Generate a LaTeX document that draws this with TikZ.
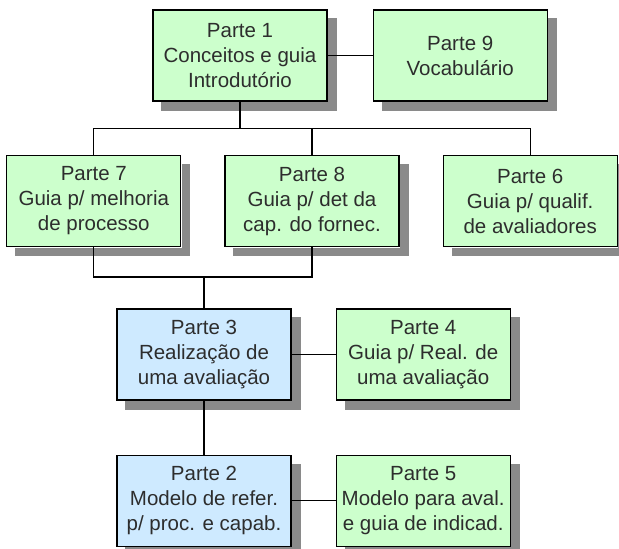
\documentclass[tikz,border=0pt]{standalone}
\usepackage{fontspec}
\setmainfont{Liberation Sans}
\usepackage{tikz}
\usetikzlibrary{positioning, calc}
\definecolor{partgreen}{RGB}{204,255,204}
\definecolor{partblue}{RGB}{206,234,255}
\definecolor{shadowgray}{RGB}{138,138,138}
\definecolor{textgray}{RGB}{45,45,45}
\tikzset{
	parte/.style={
		draw,
		line width=1.2pt,
		align = center,
		minimum width=174pt,
		minimum height=91pt,
		inner sep=0pt,
		text=textgray,
		font={\fontsize{20.5}{25}\selectfont},
	},
	verde/.style={
		parte,
		fill=partgreen,
	},
	azul/.style={
		parte,
		fill=partblue,
	},
	link/.style={
		line width=1.2pt,
	},
	sombra/.style={
		fill=shadowgray,
	}
}

\begin{document}
\begin{tikzpicture}[x=1pt, y=-1pt]
\useasboundingbox (0,0) rectangle (619,549);

\node(p1)[verde] at (240,55.5) {Parte 1\\Conceitos e guia\\Introdutório};
\node(p9)[verde, right = 45pt of p1] {Parte 9\\Vocabulário};

\node(p8)[verde] at (312,201) {Parte 8\\Guia p/ det da\\cap. do fornec.};
\node(p7)[verde, left = 43pt of p8] {Parte 7\\Guia p/ melhoria\\de processo};
\node(p6)[verde, right = 43pt of p8] {Parte 6\\Guia p/ qualif.\\de avaliadores};

\node(p3)[azul] at (204,354.5) {Parte 3\\Realização de\\uma avaliação};
\node(p4)[verde, right = 44pt of p3] {Parte 4\\Guia p/ Real. de\\uma avaliação};

\node(p2)[azul, below = 54pt of p3] {Parte 2\\Modelo de refer.\\p/ proc. e capab.};
\node(p5)[verde, right = 44pt of p2] {Parte 5\\Modelo para aval.\\e guia de indicad.};

% shadow strips, right and below each box
\foreach \nn in {p1,p9,p7,p8,p6,p3,p4,p2,p5} {
	\fill[sombra] ([shift={(0.6pt,-9pt)}]\nn.north east) rectangle ([shift={(9pt,-9pt)}]\nn.south east);
	\fill[sombra] ([shift={(9pt,-0.6pt)}]\nn.south west) rectangle ([shift={(9pt,-9pt)}]\nn.south east);
};

\coordinate(j1) at ($(p1.south)!0.5!(p1.south |- p8.north)$);
\coordinate(j2) at ([yshift=31.5pt]p3.north);

\draw[link] (p1) -- (p9);
\draw[link] (p1.south) -- (j1);
\draw[link] (p7.north) |- (j1) -| (p6.north);
\draw[link] (p8.north) -- (p8.north |- j1);
\draw[link] (p7.south) |- (j2) -| (p8.south);
\draw[link] (j2) -- (p3.north);
\draw[link] (p3) -- (p4);
\draw[link] (p3) -- (p2);
\draw[link] (p2) -- (p5);

\end{tikzpicture}
\end{document}
